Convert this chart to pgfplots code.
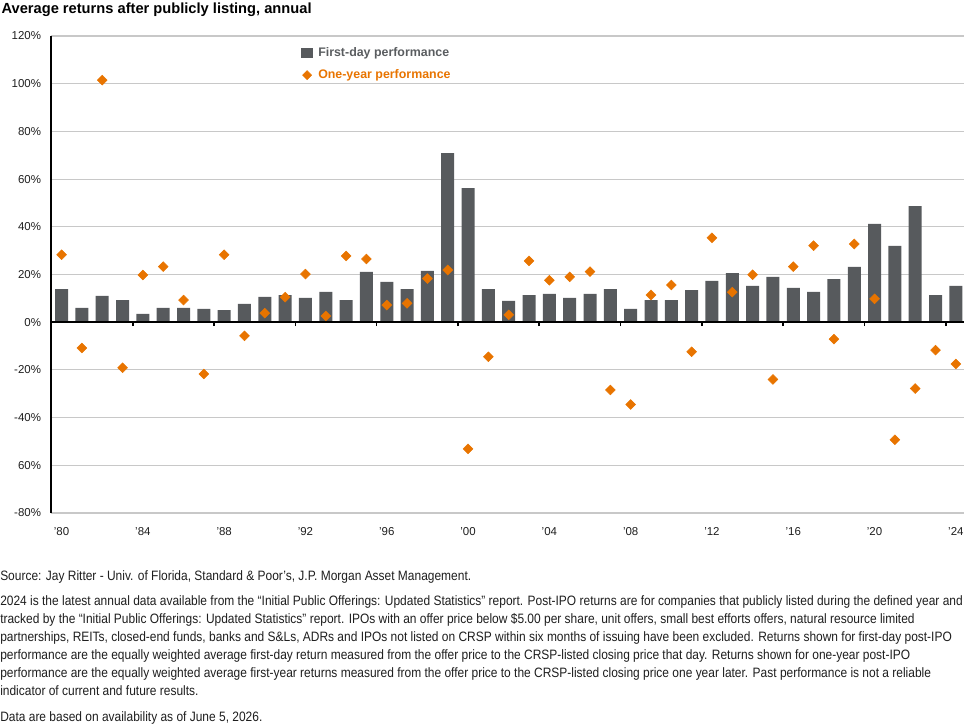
\documentclass[border=0pt]{standalone}
\usepackage{pgfplots}
\usepackage{pgfplotstable}
\pgfplotsset{compat=1.18}
\usepackage{fontspec}
\setmainfont{Liberation Sans}
\newfontfamily\notefont{Liberation Sans}[FakeStretch=0.88]
\definecolor{barc}{RGB}{87,90,93}
\definecolor{orc}{RGB}{232,116,0}
\definecolor{gridc}{RGB}{200,200,200}
\definecolor{legc}{RGB}{90,93,96}
\definecolor{txtc}{RGB}{30,30,30}

\pgfplotstableread{
year first oneyear
1980 13.9 28.3
1981 6.0 -10.8
1982 11.0 101.5
1983 9.3 -19.1
1984 3.5 19.8
1985 6.0 23.3
1986 6.0 9.3
1987 5.6 -21.7
1988 5.1 28.3
1989 7.7 -5.7
1990 10.6 3.8
1991 11.4 10.5
1992 10.2 20.2
1993 12.7 2.6
1994 9.3 27.8
1995 21.1 26.5
1996 16.9 7.2
1997 13.9 7.9
1998 21.5 18.3
1999 70.9 21.9
2000 56.2 -53.1
2001 13.9 -14.5
2002 8.9 3.1
2003 11.4 25.7
2004 11.9 17.6
2005 10.2 19.0
2006 11.9 21.2
2007 13.9 -28.4
2008 5.6 -34.5
2009 9.3 11.4
2010 9.3 15.6
2011 13.5 -12.4
2012 17.3 35.4
2013 20.6 12.6
2014 15.2 19.9
2015 19.0 -24.0
2016 14.4 23.3
2017 12.7 32.1
2018 18.1 -7.1
2019 23.2 32.8
2020 41.2 9.8
2021 32.0 -49.3
2022 48.7 -27.8
2023 11.4 -11.7
2024 15.2 -17.5
}\datatable

\pgfplotsset{
  barleg/.style={legend image code/.code={\fill[barc] (0pt,-3.75pt) rectangle (8.75pt,3.75pt);}},
  markleg/.style={legend image code/.code={\draw[mark repeat=2,mark phase=2,draw=none,mark=square*,mark size=2.4pt,orc,mark options={rotate=45,fill=orc,draw=orc}] plot coordinates {(0pt,0pt) (4.375pt,0pt) (8.75pt,0pt)};}},
}

\begin{document}
\begin{tikzpicture}
\useasboundingbox (0,0) rectangle (723pt,-544.5pt);
\begin{axis}[
  scale only axis, width=684.75pt, height=357.75pt,
  at={(38.25pt,-384.75pt)}, anchor=south west,
  xmin=1979.48, xmax=2024.4, ymin=-80, ymax=120,
  axis x line*=bottom, axis y line*=left,
  axis line style={draw=none},
  ytick={-80,-60,...,120},
  yticklabels={-80\%,60\%,-40\%,-20\%,0\%,20\%,40\%,60\%,80\%,100\%,120\%},
  xtick={1980,1984,...,2024},
  xticklabels={’80,’84,’88,’92,’96,’00,’04,’08,’12,’16,’20,’24},
  major tick length=0pt,
  ymajorgrids, grid style={gridc, line width=0.8pt},
  tick label style={font=\fontsize{8.6}{10}\selectfont, text=txtc},
  yticklabel style={xshift=-4pt},
  xticklabel style={yshift=-7.5pt},
  legend style={at={(0.2738,0.981)}, anchor=north west, draw=none, fill=none,
    inner sep=0pt, row sep=4pt, font=\bfseries\fontsize{9.3}{11}\selectfont,
    nodes={inner xsep=4pt}},
  legend cell align=left,
]
\addplot[ybar, bar width=9.75pt, fill=barc, draw=none, barleg]
  table[x=year, y=first] {\datatable};
\addlegendentry{\textcolor{legc}{First-day performance}}
\addplot[only marks, mark=square*, mark size=2.6pt, color=orc,
  mark options={rotate=45, fill=orc, draw=orc}, markleg]
  table[x=year, y=oneyear] {\datatable};
\addlegendentry{\textcolor{orc}{One-year performance}}
\end{axis}
\begin{axis}[
  scale only axis, width=684.75pt, height=357.75pt,
  at={(38.25pt,-384.75pt)}, anchor=south west,
  xmin=1979.48, xmax=2024.4, ymin=-80, ymax=120,
  axis x line=middle, axis y line=left,
  axis line style={-, black, line width=1.5pt},
  every inner x axis line/.append style={-},
  every outer y axis line/.append style={-},
  xtick={1983.5,1987.5,...,2023.5}, xticklabels={}, ytick=\empty,
  tick align=outside, major tick length=3pt,
  tick style={black, line width=1.2pt},
]
\end{axis}
\node[anchor=base west, inner sep=0pt, text=black] at (1pt,-10pt)
  {\bfseries\fontsize{11}{13}\selectfont Average returns after publicly listing, annual};
\begin{scope}[every node/.style={anchor=base west, inner sep=0pt, text=txtc, font=\notefont\fontsize{10.2}{12}\selectfont}]
\node at (0pt,-435pt) {Source: Jay Ritter - Univ. of Florida, Standard \& Poor’s, J.P. Morgan Asset Management.};
\node at (0pt,-454.3pt) {2024 is the latest annual data available from the “Initial Public Offerings: Updated Statistics” report. Post-IPO returns are for companies that publicly listed during the defined year and};
\node at (0pt,-467.8pt) {tracked by the “Initial Public Offerings: Updated Statistics” report. IPOs with an offer price below \$5.00 per share, unit offers, small best efforts offers, natural resource limited};
\node at (0pt,-481.3pt) {partnerships, REITs, closed-end funds, banks and S\&Ls, ADRs and IPOs not listed on CRSP within six months of issuing have been excluded. Returns shown for first-day post-IPO};
\node at (0pt,-494.8pt) {performance are the equally weighted average first-day return measured from the offer price to the CRSP-listed closing price that day. Returns shown for one-year post-IPO};
\node at (0pt,-508.3pt) {performance are the equally weighted average first-year returns measured from the offer price to the CRSP-listed closing price one year later. Past performance is not a reliable};
\node at (0pt,-521.8pt) {indicator of current and future results.};
\node at (0pt,-541.3pt) {Data are based on availability as of June 5, 2026.};
\end{scope}
\end{tikzpicture}
\end{document}
